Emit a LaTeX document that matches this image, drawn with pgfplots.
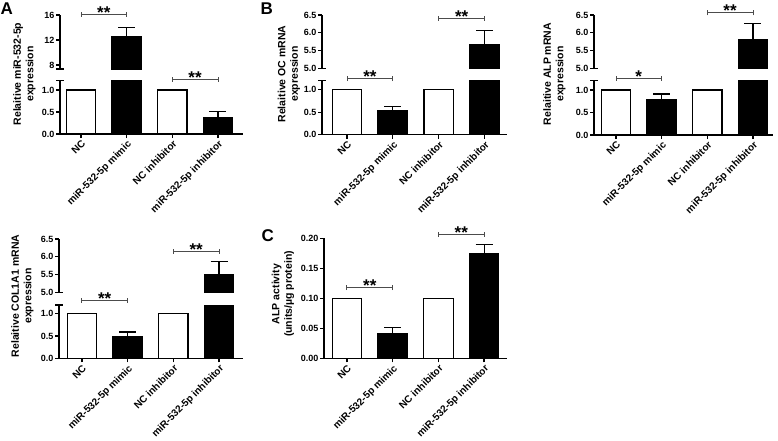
\documentclass[border=0pt]{standalone}
\usepackage{pgfplots}
\pgfplotsset{compat=1.18}
\usepackage{fontspec}
\setmainfont{Liberation Sans}

\pgfplotsset{
  base/.style={
    scale only axis,
    clip mode=individual,
    axis line style={-, line width=1.3pt},
    major tick style={line width=1.3pt, black},
    tick align=outside,
    major tick length=4pt,
    /pgf/number format/assume math mode=true,
    yticklabel style={font=\fontsize{9}{9}\selectfont\bfseries, inner sep=1.5pt},
    xticklabel style={font=\fontsize{10}{10}\selectfont\bfseries, rotate=45, anchor=north east, inner sep=1pt},
  },
  lowerax/.style={base, axis x line*=bottom, axis y line*=left, ymin=0,
    xtick={0,1,2,3}, xticklabels={NC, miR-532-5p mimic, NC inhibitor, miR-532-5p inhibitor},
    ytick={0,0.5,1},
    yticklabel style={/pgf/number format/.cd, fixed, fixed zerofill, precision=1}},
  upperax/.style={base, axis x line=none, axis y line*=left, xtick=\empty},
  wbar/.style={ybar, bar width=29.5pt, bar shift=0pt, fill=white, draw=black, line width=1.2pt},
  kbar/.style={ybar, bar width=29.5pt, bar shift=0pt, fill=black, draw=black, line width=1.2pt,
    error bars/.cd, y dir=plus, y explicit,
    error mark=|,
    error bar style={line width=1.2pt, black},
    error mark options={line width=1.2pt, mark size=8.5pt, black}},
}
\newcommand{\sig}[4]{%
  \draw[line width=0.8pt, black!70] (axis cs:#1,#3) -- (axis cs:#2,#3);
  \draw[line width=0.8pt, black!70] (axis cs:#1,#3) ++(0pt,-2.5pt) -- ++(0pt,5pt);
  \draw[line width=0.8pt, black!70] (axis cs:#2,#3) ++(0pt,-2.5pt) -- ++(0pt,5pt);
  \node[anchor=base, inner sep=0pt, font=\fontsize{17}{17}\selectfont\bfseries] at (axis cs:{(#1+#2)/2},#3) [yshift=-4pt] {#4};
}
\newcommand{\brklow}{\draw[line width=1.3pt] (rel axis cs:0,1) ++(-4pt,0pt) -- ++(8pt,0pt);}
\newcommand{\brkup}{\draw[line width=1.3pt] (rel axis cs:0,0) ++(-4pt,0pt) -- ++(8pt,0pt);}

\begin{document}
\begin{tikzpicture}
\useasboundingbox (0pt,0pt) rectangle (778pt,-441pt);

% ---------------- Panel A ----------------
\node[anchor=base west, inner sep=0pt, font=\fontsize{17}{17}\selectfont\bfseries] at (0.5pt,-15pt) {A};
\node[rotate=90, align=center, font=\fontsize{10.5}{12.5}\selectfont\bfseries] at (24.5pt,-74pt) {Relaitive miR-532-5p\\expression};
\begin{axis}[lowerax, at={(60pt,-134pt)}, anchor=south west, width=183pt, height=53.5pt,
  xmin=-0.46, xmax=3.55, ymax=1.216]
  \addplot[wbar] coordinates {(0,1) (2,1)};
  \addplot[kbar] coordinates {(1,12.5) +- (0,0) (3,0.38) +- (0,0.14)};
  \brklow
  \sig{2}{3}{1.25}{**}
\end{axis}
\begin{axis}[upperax, at={(60pt,-69pt)}, anchor=south west, width=183pt, height=54pt,
  xmin=-0.46, xmax=3.55, ymin=7.36, ymax=16, ytick={8,12,16}]
  \addplot[kbar] coordinates {(1,12.5) +- (0,1.55)};
  \brkup
  \sig{0}{1}{16.11}{**}
\end{axis}

% ---------------- Panel B (OC) ----------------
\node[anchor=base west, inner sep=0pt, font=\fontsize{17}{17}\selectfont\bfseries] at (260.5pt,-14.5pt) {B};
\node[rotate=90, align=center, font=\fontsize{10.5}{12.5}\selectfont\bfseries] at (289pt,-74pt) {Relaitive OC mRNA\\expression};
\begin{axis}[lowerax, at={(322pt,-134.7pt)}, anchor=south west, width=185pt, height=54.2pt,
  xmin=-0.545, xmax=3.49, ymax=1.204]
  \addplot[wbar] coordinates {(0,1) (2,1)};
  \addplot[kbar] coordinates {(1,0.53) +- (0,0.09) (3,5.66) +- (0,0)};
  \brklow
  \sig{0}{1}{1.244}{**}
\end{axis}
\begin{axis}[upperax, at={(322pt,-68.5pt)}, anchor=south west, width=185pt, height=53.5pt,
  xmin=-0.545, xmax=3.49, ymin=5, ymax=6.5, ytick={5,5.5,6,6.5},
  yticklabel style={/pgf/number format/.cd, fixed, fixed zerofill, precision=1}]
  \addplot[kbar] coordinates {(3,5.66) +- (0,0.40)};
  \brkup
  \sig{2}{3}{6.41}{**}
\end{axis}

% ---------------- Panel ALP mRNA ----------------
\node[rotate=90, align=center, font=\fontsize{10.5}{12.5}\selectfont\bfseries] at (554.5pt,-74pt) {Relaitive ALP mRNA\\expression};
\begin{axis}[lowerax, at={(594pt,-135pt)}, anchor=south west, width=179pt, height=54.5pt,
  xmin=-0.48, xmax=3.44, ymax=1.211]
  \addplot[wbar] coordinates {(0,1) (2,1)};
  \addplot[kbar] coordinates {(1,0.79) +- (0,0.12) (3,5.82) +- (0,0)};
  \brklow
  \sig{0}{1}{1.26}{*}
\end{axis}
\begin{axis}[upperax, at={(594pt,-68.3pt)}, anchor=south west, width=179pt, height=53.3pt,
  xmin=-0.48, xmax=3.44, ymin=5, ymax=6.5, ytick={5,5.5,6,6.5},
  yticklabel style={/pgf/number format/.cd, fixed, fixed zerofill, precision=1}]
  \addplot[kbar] coordinates {(3,5.82) +- (0,0.43)};
  \brkup
  \sig{2}{3}{6.56}{**}
\end{axis}

% ---------------- Panel COL1A1 ----------------
\node[rotate=90, align=center, font=\fontsize{10.5}{12.5}\selectfont\bfseries] at (22.5pt,-296pt) {Relaitive COL1A1 mRNA\\expression};
\begin{axis}[lowerax, at={(59pt,-358.3pt)}, anchor=south west, width=184.3pt, height=53.3pt,
  xmin=-0.5, xmax=3.53, ymax=1.195]
  \addplot[wbar] coordinates {(0,1) (2,1)};
  \addplot[kbar] coordinates {(1,0.48) +- (0,0.11) (3,5.51) +- (0,0)};
  \brklow
  \sig{0}{1}{1.30}{**}
\end{axis}
\begin{axis}[upperax, at={(59pt,-292.3pt)}, anchor=south west, width=184.3pt, height=53.3pt,
  xmin=-0.5, xmax=3.53, ymin=5, ymax=6.5, ytick={5,5.5,6,6.5},
  yticklabel style={/pgf/number format/.cd, fixed, fixed zerofill, precision=1}]
  \addplot[kbar] coordinates {(3,5.51) +- (0,0.35)};
  \brkup
  \sig{2}{3}{6.16}{**}
\end{axis}

% ---------------- Panel C ----------------
\node[anchor=base west, inner sep=0pt, font=\fontsize{17}{17}\selectfont\bfseries] at (261.5pt,-241.5pt) {C};
\node[rotate=90, align=center, font=\fontsize{10.5}{12.5}\selectfont\bfseries] at (283pt,-294pt) {ALP activity\\(units/µg protein)};
\begin{axis}[base, axis x line*=bottom, axis y line*=left,
  xtick={0,1,2,3}, xticklabels={NC, miR-532-5p mimic, NC inhibitor, miR-532-5p inhibitor},
  at={(324pt,-358.3pt)}, anchor=south west, width=183pt, height=120pt,
  xmin=-0.5, xmax=3.5, ymin=0, ymax=0.2, ytick={0,0.05,0.1,0.15,0.2},
  yticklabel style={/pgf/number format/.cd, fixed, fixed zerofill, precision=2}]
  \addplot[wbar] coordinates {(0,0.1) (2,0.1)};
  \addplot[kbar] coordinates {(1,0.042) +- (0,0.010) (3,0.175) +- (0,0.015)};
  \sig{0}{1}{0.1177}{**}
  \sig{2}{3}{0.2067}{**}
\end{axis}
\end{tikzpicture}
\end{document}
